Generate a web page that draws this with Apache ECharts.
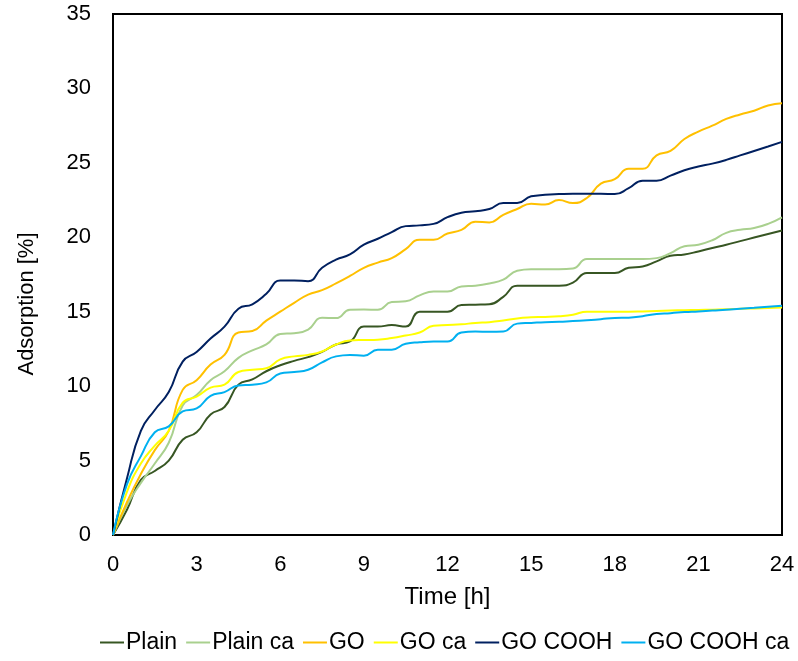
<!DOCTYPE html>
<html>
<head>
<meta charset="utf-8">
<script src="https://cdn.jsdelivr.net/npm/echarts@6/dist/echarts.min.js"></script>
<style>
html,body{margin:0;padding:0;background:#fff;}
#chart{width:798px;height:661px;}
</style>
</head>
<body>
<div id="chart"></div>
<script>
var times = [0,0.5,1,1.5,2,2.5,3,3.5,4,4.5,5,5.5,6,6.5,7,7.5,8,8.5,9,9.5,10,10.5,11,11.5,12,12.5,13,13.5,14,14.5,15,15.5,16,16.5,17,17.5,18,18.5,19,19.5,20,20.5,21,21.5,22,22.5,23,23.5,24];
var plain = [0,1.7,3.7,4.3,5.0,6.4,6.9,8.1,8.6,10.1,10.45,11.0,11.4,11.7,11.95,12.3,12.8,13.0,14.0,14.0,14.1,14.0,15.0,15.0,15.0,15.45,15.47,15.5,16.0,16.75,16.75,16.75,16.75,16.95,17.6,17.6,17.6,17.95,18.04,18.38,18.76,18.85,19.05,19.28,19.5,19.74,19.98,20.22,20.46];
var plainCa = [0,2.0,3.5,4.8,6.2,8.7,9.4,10.4,11.0,11.9,12.4,12.8,13.5,13.56,13.8,14.6,14.57,15.13,15.15,15.13,15.65,15.7,16.1,16.36,16.36,16.7,16.75,16.9,17.15,17.75,17.85,17.85,17.85,17.9,18.54,18.54,18.54,18.54,18.54,18.6,18.94,19.4,19.5,19.8,20.3,20.5,20.62,20.9,21.34];
var go = [0,2.2,4.1,5.7,7.0,9.75,10.4,11.45,12.1,13.6,13.7,14.4,15.0,15.6,16.15,16.45,16.9,17.4,17.95,18.3,18.6,19.2,19.84,19.84,20.25,20.5,21.05,21.0,21.5,21.9,22.25,22.2,22.5,22.3,22.64,23.6,23.9,24.6,24.6,25.5,25.8,26.6,27.1,27.5,27.95,28.25,28.5,28.85,29.0];
var goCa = [0,2.9,4.8,6.0,7.0,8.9,9.3,9.9,10.1,10.95,11.1,11.2,11.8,12.0,12.1,12.33,12.8,13.07,13.1,13.12,13.23,13.4,13.6,14.05,14.1,14.15,14.25,14.3,14.41,14.55,14.62,14.65,14.7,14.8,15.0,15.0,15.0,15.0,15.02,15.05,15.08,15.1,15.12,15.14,15.16,15.2,15.22,15.25,15.29];
var goCooh = [0,3.8,7.0,8.4,9.6,11.65,12.3,13.2,14.0,15.2,15.5,16.2,17.1,17.1,17.05,17.95,18.5,18.85,19.5,19.9,20.35,20.75,20.8,20.9,21.35,21.65,21.75,21.9,22.3,22.3,22.75,22.85,22.9,22.93,22.93,22.93,22.9,23.3,23.8,23.8,24.14,24.5,24.75,24.95,25.2,25.5,25.8,26.1,26.41];
var goCoohCa = [0,3.4,5.3,6.9,7.3,8.3,8.5,9.35,9.6,10.05,10.1,10.25,10.85,10.95,11.1,11.6,12.0,12.1,12.05,12.45,12.45,12.85,12.95,13.0,13.0,13.6,13.67,13.65,13.67,14.2,14.25,14.3,14.32,14.38,14.42,14.5,14.58,14.6,14.7,14.85,14.9,14.98,15.02,15.08,15.13,15.2,15.26,15.33,15.4];

var seriesNames = ['Plain','Plain ca','GO','GO ca','GO COOH','GO COOH ca'];
var seriesValues = [plain, plainCa, go, goCa, goCooh, goCoohCa];
var colors = ['#375623','#a9d08e','#ffc000','#ffff00','#002060','#00b0f0'];

function pairs(vals){ return times.map(function(t,i){ return [t, vals[i]]; }); }

var chart = echarts.init(document.getElementById('chart'));
var font = 'Liberation Sans, Arial, sans-serif';
chart.setOption({
  animation:false,
  color: colors,
  grid:{left:113,right:16,top:14,bottom:126,show:true,borderColor:'#000',borderWidth:2,containLabel:false},
  legend:{
    top:631,left:100,right:0,padding:0,
    icon:'rect',itemWidth:24,itemHeight:2,itemGap:9,
    textStyle:{fontFamily:font,fontSize:23,color:'#000',padding:[0,0,0,-3]},
    data: seriesNames
  },
  graphic:[{
    type:'text',x:27,y:304,rotation:Math.PI/2,
    style:{text:'Adsorption [%]',font:'22px Liberation Sans, Arial, sans-serif',fill:'#000',align:'center',verticalAlign:'middle'}
  }],
  xAxis:{
    type:'value',min:0,max:24,interval:3,
    name:'Time [h]',nameLocation:'middle',nameGap:50,
    nameTextStyle:{fontFamily:font,fontSize:24,color:'#000'},
    axisLine:{show:true,lineStyle:{color:'#000',width:2}},
    axisTick:{show:false},
    splitLine:{show:false},
    axisLabel:{fontFamily:font,fontSize:22,color:'#000',margin:19}
  },
  yAxis:{
    type:'value',min:0,max:35,interval:5,
    axisLine:{show:true,lineStyle:{color:'#000',width:2}},
    axisTick:{show:false},
    splitLine:{show:false},
    axisLabel:{fontFamily:font,fontSize:22,color:'#000',margin:22}
  },
  series: seriesNames.map(function(n,i){
    return {name:n,type:'line',data:pairs(seriesValues[i]),smooth:0.5,showSymbol:false,symbol:'none',
      lineStyle:{width:2,color:colors[i]},itemStyle:{color:colors[i]}};
  })
});
</script>
</body>
</html>
